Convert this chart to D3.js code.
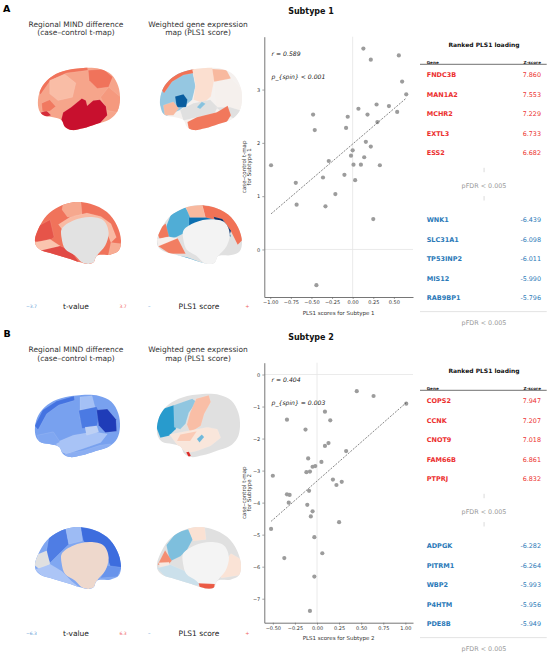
<!DOCTYPE html>
<html>
<head>
<meta charset="utf-8">
<script src="https://cdn.jsdelivr.net/npm/d3@7"></script>
<style>
  body { margin: 0; background: #fff; }
  svg { display: block; font-family: "DejaVu Sans", sans-serif; }
</style>
</head>
<body>
<div id="chart"></div>
<script>
const W = 550, H = 654;

// ---- scatter data ----
const sub1PLS = [-0.99, -0.69, -0.68, -0.48, -0.46, -0.44, -0.36, -0.33, -0.29, -0.21, -0.10, -0.08, -0.06, -0.02,
  0.00, 0.01, 0.03, 0.07, 0.10, 0.13, 0.14, 0.16, 0.18, 0.22, 0.22, 0.25, 0.29, 0.30, 0.33, 0.44, 0.54, 0.56, 0.60, 0.65];
const sub1T = [1.58, 1.25, 0.84, 2.53, 2.24, -0.67, 1.35, 0.81, 1.66, 1.04, 1.40, 2.28, 2.49, 1.76,
  1.86, 1.59, 1.30, 2.64, 1.59, 3.77, 1.73, 2.02, 2.53, 3.56, 1.93, 0.57, 2.72, 2.39, 1.58, 2.69, 2.58, 3.64, 3.15, 2.91];
const sub2PLS = [-0.52, -0.50, -0.37, -0.34, -0.34, -0.31, -0.32, -0.13, -0.11, -0.12, -0.10, -0.08, -0.09, -0.08,
  -0.07, -0.05, -0.05, -0.02, -0.03, -0.03, 0.05, 0.06, 0.09, 0.09, 0.13, 0.15, 0.18, 0.22, 0.25, 0.28, 0.33, 0.45, 0.64, 1.01];
const sub2T = [-4.82, -3.16, -5.73, -1.41, -3.74, -3.76, -4.00, -1.72, -4.07, -3.05, -2.62, -3.03, -3.63, -7.38,
  -4.43, -4.27, -2.88, -2.86, -5.08, -6.31, -2.73, -5.58, -1.16, -2.23, -2.14, -1.43, -3.28, -3.45, -4.61, -3.35, -2.39, -0.52, -0.67, -0.91];

const sub1Stats = ['r = 0.589', 'p_{spin} < 0.001'];
const sub2Stats = ['r = 0.404', 'p_{spin} = 0.003'];

const sub1XTicks = [-1, -0.75, -0.5, -0.25, 0, 0.25, 0.5];
const sub1YTicks = [0, 1, 2, 3];
const sub2XTicks = [-0.5, -0.25, 0, 0.25, 0.5, 0.75, 1];
const sub2YTicks = [-7, -6, -5, -4, -3, -2, -1, 0];

// ---- ranked PLS1 loading tables ----
const sub1PosGenes = ['FNDC3B', 'MAN1A2', 'MCHR2', 'EXTL3', 'ESS2'];
const sub1PosZ = [7.860, 7.553, 7.229, 6.733, 6.682];
const sub1NegGenes = ['WNK1', 'SLC31A1', 'TP53INP2', 'MIS12', 'RAB9BP1'];
const sub1NegZ = [-6.439, -6.098, -6.011, -5.990, -5.796];
const sub2PosGenes = ['COPS2', 'CCNK', 'CNOT9', 'FAM66B', 'PTPRJ'];
const sub2PosZ = [7.947, 7.207, 7.018, 6.861, 6.832];
const sub2NegGenes = ['ADPGK', 'PITRM1', 'WBP2', 'P4HTM', 'PDE8B'];
const sub2NegZ = [-6.282, -6.264, -5.993, -5.956, -5.949];

// ---- regional values for the brain maps (t for MIND, scaled score for PLS1) ----
const tMaxA = 3.7, tMaxB = 6.3;
const mindA_lat = [1.65, 2.6, 1.15, 2.6, 1.9, 3.7, 3.4, 2.5];
const mindA_med = [2.6, 1.6, 1.2, 3.0, 1.0, 3.1, 1.5];
const plsA_lat = [0.03, -0.27, 0.72, -0.8, 0.22, 0.45, 0.04, null, -0.3, null, 0.7, 0.45, -0.55];
const plsA_med = [null, -0.42, 0.45, 0.72, -0.72, -1, 0.7, 0.05, 0.68, -0.45];
const mindB_lat = [-3.2, -4.6, -2.0, -4.4, -6.3, -1.9, -2.7, -1.3, -3.0];
const mindB_med = [-3.0, -4.8, -4.3, -2.2, null, -1.8, -3.6];
const plsB_lat = [null, -0.52, -0.28, 0.42, 0.15, 0.35, -0.35, 0.95];
const plsB_med = [null, -0.32, 0.2, 0.62, 0.12, -0.12, 0.18, 0.8];

// ---- colours ----
const T_STOPS = ['#1f3cb8', '#3f6fe0', '#7aa3f0', '#b4cbf7', '#e8e8e8', '#fac7b2', '#f59c80', '#ef6a52', '#c8102e'];
const PLS_STOPS = ['#08306b', '#0868ac', '#2b9fd0', '#9ecbe2', '#f4f4f4', '#fcdccb', '#f7b094', '#f06a4e', '#d7191c'];
const STOP_POS = [-1, -0.75, -0.5, -0.25, 0, 0.25, 0.5, 0.75, 1];
const NULL_GREY = '#e0e0e0';
const RED = '#ec2f2f';
const BLUE = '#2a79b8';

const tColor = vmax => d3.scaleLinear().domain(STOP_POS.map(d => d * vmax)).range(T_STOPS).clamp(true);
const plsColor = d3.scaleLinear().domain(STOP_POS).range(PLS_STOPS).clamp(true);

// ---- brain geometry (outline normalised to its box, regions in source-pixel space) ----
const LAT_OUTLINE = [[0.012, 0.676], [0, 0.514], [0.041, 0.324], [0.143, 0.162], [0.306, 0.054], [0.551, 0], [0.755, 0.016],
  [0.898, 0.108], [0.98, 0.297], [1, 0.514], [0.967, 0.703], [0.878, 0.827], [0.714, 0.903], [0.551, 0.973], [0.408, 1],
  [0.327, 0.946], [0.286, 0.838], [0.184, 0.795], [0.061, 0.757]];
const MED_OUTLINE = [[0.012, 0.703], [0, 0.595], [0.039, 0.432], [0.136, 0.216], [0.272, 0.081], [0.447, 0.005], [0.642, 0.027],
  [0.837, 0.162], [0.953, 0.378], [1, 0.622], [0.973, 0.784], [0.875, 0.849], [0.72, 0.865], [0.681, 0.973], [0.623, 1],
  [0.525, 0.973], [0.37, 0.903], [0.214, 0.838], [0.078, 0.784]];
const MED_WALL = [[0.311, 0.432], [0.447, 0.297], [0.642, 0.243], [0.797, 0.297], [0.856, 0.486], [0.817, 0.703], [0.72, 0.865],
  [0.681, 0.973], [0.623, 1], [0.545, 0.973], [0.467, 0.865], [0.35, 0.757], [0.311, 0.595]];

const SHAPES = {
  A_lat: { src: [115, 205, 360, 390], regions: ['all',
    [[112, 262], [140, 225], [190, 205], [262, 198], [264, 212], [200, 220], [152, 242], [122, 285]],
    [[150, 242], [195, 224], [228, 250], [218, 292], [175, 302], [150, 282]],
    [[265, 212], [310, 208], [338, 232], [326, 262], [292, 266], [268, 242]],
    [[326, 262], [362, 292], [356, 338], [322, 332], [302, 292]],
    [[190, 338], [214, 322], [234, 306], [246, 296], [258, 302], [262, 318], [280, 302], [300, 300], [318, 320], [322, 346],
      [300, 370], [250, 388], [214, 392], [194, 382], [184, 362]],
    [[118, 340], [140, 332], [154, 346], [130, 354]],
    [[126, 310], [150, 300], [168, 320], [150, 334], [128, 334]]] },
  A_med: { src: [105, 95, 362, 280], regions: ['all',
    [[190, 92], [242, 92], [246, 135], [202, 140], [186, 118]],
    [[175, 162], [210, 140], [260, 128], [302, 138], [332, 160], [348, 200], [332, 216], [320, 186], [280, 152], [220, 152], [186, 176]],
    [[100, 212], [118, 165], [150, 148], [162, 200], [140, 216]],
    [[104, 216], [150, 206], [180, 226], [150, 240], [112, 242]],
    [[112, 242], [180, 226], [212, 240], [242, 282], [200, 264], [150, 250]],
    [[332, 216], [366, 220], [356, 248], [324, 254]]] },
  P_A_lat: { src: [90, 205, 335, 390], regions: ['all',
    [[86, 250], [110, 225], [150, 214], [186, 208], [196, 260], [186, 300], [150, 330], [100, 352], [86, 300]],
    [[92, 266], [118, 232], [160, 212], [190, 204], [192, 220], [160, 226], [126, 246], [102, 280]],
    [[135, 290], [160, 283], [172, 300], [168, 322], [140, 322]],
    [[186, 206], [246, 203], [252, 240], [242, 290], [220, 310], [190, 300], [196, 255]],
    [[246, 208], [288, 210], [302, 236], [272, 256], [252, 246]],
    [[252, 246], [302, 236], [338, 270], [338, 330], [300, 336], [256, 320]],
    [[150, 330], [190, 310], [240, 300], [262, 322], [250, 346], [200, 352], [160, 362]],
    [[200, 322], [215, 306], [226, 312], [210, 327]],
    [[256, 322], [300, 322], [332, 332], [310, 356], [290, 346]],
    [[172, 366], [200, 352], [260, 337], [292, 318], [302, 346], [286, 372], [240, 388], [200, 394], [176, 388]],
    [[100, 316], [130, 306], [146, 326], [130, 346], [104, 346]],
    [[288, 376], [322, 352], [340, 334], [336, 358], [300, 380]]] },
  P_A_med: { src: [80, 630, 335, 790], regions: ['all',
    [[106, 692], [122, 655], [165, 636], [182, 660], [176, 700], [140, 716], [112, 726]],
    [[165, 634], [216, 630], [226, 665], [180, 665]],
    [[216, 630], [272, 638], [318, 668], [340, 722], [322, 738], [302, 702], [266, 672], [226, 665]],
    [[176, 664], [226, 664], [266, 672], [292, 690], [302, 716], [270, 702], [230, 692], [176, 702]],
    [[250, 662], [276, 668], [302, 700], [296, 716], [260, 692]],
    [[78, 700], [106, 680], [116, 716], [88, 722]],
    [[80, 722], [116, 716], [142, 720], [120, 738], [84, 742]],
    [[84, 742], [142, 720], [166, 762], [118, 762]],
    [[108, 762], [170, 772], [232, 792], [242, 800], [180, 790], [100, 770]]] },
  B_lat: { src: [105, 180, 360, 365], regions: ['all',
    [[104, 272], [128, 225], [170, 198], [222, 183], [224, 196], [176, 210], [140, 236], [114, 284]],
    [[240, 186], [276, 182], [286, 220], [266, 260], [240, 250]],
    [[236, 226], [290, 215], [300, 236], [290, 276], [246, 280]],
    [[290, 225], [322, 222], [348, 252], [350, 288], [316, 292], [296, 270]],
    [[168, 322], [220, 300], [280, 290], [322, 296], [302, 322], [250, 340], [200, 356], [174, 346]],
    [[194, 356], [250, 346], [300, 330], [332, 326], [312, 352], [260, 364], [210, 368]],
    [[255, 276], [290, 272], [296, 290], [260, 300]],
    [[112, 300], [160, 290], [180, 320], [150, 336], [118, 322]]] },
  B_med: { src: [105, 98, 362, 285], regions: ['all',
    [[240, 98], [292, 106], [332, 134], [358, 180], [364, 222], [336, 236], [322, 192], [290, 162], [250, 142], [245, 120]],
    [[148, 122], [196, 98], [206, 150], [180, 176], [150, 206], [138, 180]],
    [[196, 98], [242, 96], [246, 140], [206, 150]],
    [[102, 212], [114, 180], [140, 170], [150, 210], [120, 226]],
    [[106, 226], [150, 210], [186, 232], [214, 262], [242, 284], [190, 272], [138, 256]],
    [[322, 214], [364, 220], [352, 248], [300, 252]]] },
  P_B_lat: { src: [80, 190, 330, 380], regions: ['all',
    [[80, 256], [100, 234], [130, 224], [150, 234], [150, 270], [136, 296], [116, 316], [90, 322], [78, 290]],
    [[130, 224], [186, 204], [200, 214], [176, 246], [166, 280], [150, 296], [132, 290]],
    [[198, 204], [236, 194], [242, 214], [222, 250], [212, 286], [180, 306], [170, 282], [180, 246]],
    [[118, 312], [180, 300], [232, 290], [262, 296], [272, 322], [242, 346], [200, 362], [170, 368], [140, 342]],
    [[150, 312], [200, 302], [180, 332], [140, 332]],
    [[200, 326], [215, 312], [222, 320], [208, 336]],
    [[168, 366], [176, 364], [182, 376], [175, 380]]] },
  P_B_med: { src: [470, 98, 720, 285], regions: ['all',
    [[498, 152], [528, 114], [566, 104], [576, 136], [560, 166], [540, 186], [508, 202]],
    [[560, 98], [612, 98], [616, 136], [578, 140]],
    [[472, 212], [494, 168], [514, 200], [500, 216]],
    [[476, 206], [506, 204], [506, 216], [478, 222]],
    [[470, 222], [510, 212], [560, 234], [602, 272], [556, 278], [498, 252]],
    [[690, 178], [724, 198], [724, 242], [662, 252], [650, 232]],
    [[594, 268], [642, 270], [640, 284], [598, 284]]] }
};

const svg = d3.select('#chart').append('svg')
  .attr('width', W)
  .attr('height', H);

let clipCount = 0;

function drawBrain(box, view, shape, values, color, wall, wallAt) {
  const g = svg.append('g');
  const src = shape.src;
  const u = d3.scaleLinear().domain([0, 1]).range([box.x, box.x + box.w]);
  const v = d3.scaleLinear().domain([0, 1]).range([box.y, box.y + box.h]);
  const sx = d3.scaleLinear().domain([src[0], src[2]]).range([box.x, box.x + box.w]);
  const sy = d3.scaleLinear().domain([src[1], src[3]]).range([box.y, box.y + box.h]);
  const smooth = d3.line().x(d => u(d[0])).y(d => v(d[1])).curve(d3.curveCatmullRomClosed);
  const poly = d3.line().x(d => sx(d[0])).y(d => sy(d[1])).curve(d3.curveLinearClosed);

  const id = 'brain-clip-' + (clipCount++);
  g.append('clipPath').attr('id', id)
    .append('path').attr('d', smooth(view === 'lat' ? LAT_OUTLINE : MED_OUTLINE));
  const inner = g.append('g').attr('clip-path', `url(#${id})`);

  const addWall = () => inner.append('path').attr('d', smooth(MED_WALL)).attr('fill', wall);

  shape.regions.forEach((r, i) => {
    if (wall && i === wallAt) addWall();
    const pts = r === 'all'
      ? [[src[0] - 30, src[1] - 30], [src[2] + 30, src[1] - 30], [src[2] + 30, src[3] + 30], [src[0] - 30, src[3] + 30]]
      : r;
    inner.append('path')
      .attr('d', poly(pts))
      .attr('fill', values[i] == null ? NULL_GREY : color(values[i]))
      .attr('stroke', '#fff')
      .attr('stroke-opacity', 0.35)
      .attr('stroke-width', 0.3);
  });
  if (wall && wallAt >= shape.regions.length) addWall();
}

function brainColumnLabels(top, cbarY, vmax) {
  const fmt = d3.format('.1f');
  const t1 = svg.append('text').attr('x', 76).attr('y', top).attr('text-anchor', 'middle')
    .attr('font-size', 7.5).attr('fill', '#333');
  t1.append('tspan').attr('x', 76).text('Regional MIND difference');
  t1.append('tspan').attr('x', 76).attr('dy', 8.5).text('(case\u2013control t-map)');
  const t2 = svg.append('text').attr('x', 198).attr('y', top).attr('text-anchor', 'middle')
    .attr('font-size', 7.5).attr('fill', '#333');
  t2.append('tspan').attr('x', 198).text('Weighted gene expression');
  t2.append('tspan').attr('x', 198).attr('dy', 8.5).text('map (PLS1 score)');

  const cb = [
    { x: 31.5, t: fmt(-vmax), c: '#5b9bd5', s: 4.5 },
    { x: 76, t: 't-value', c: '#222', s: 7.5 },
    { x: 123, t: fmt(vmax).replace('\u2212', ''), c: '#f06060', s: 4.5 },
    { x: 149.3, t: '\u2013', c: '#5b9bd5', s: 5 },
    { x: 199, t: 'PLS1 score', c: '#222', s: 7.5 },
    { x: 247.3, t: '+', c: '#f06060', s: 5 }
  ];
  svg.append('g').selectAll('text').data(cb).join('text')
    .attr('x', d => d.x).attr('y', cbarY)
    .attr('dy', '0.35em')
    .attr('text-anchor', 'middle')
    .attr('font-size', d => d.s)
    .attr('fill', d => d.c)
    .text(d => d.t);
}

function padded(ext) {
  const m = (ext[1] - ext[0]) * 0.05;
  return [ext[0] - m, ext[1] + m];
}

function scatter({ xs, ys, top, bottom, xTicks, yTicks, stats, subtype }) {
  const left = 264.3, right = 413;
  const x = d3.scaleLinear().domain(padded(d3.extent(xs))).range([left, right]);
  const y = d3.scaleLinear().domain(padded(d3.extent(ys.concat([0])))).range([bottom, top]);
  const g = svg.append('g');

  // zero reference lines
  g.append('line').attr('x1', x(0)).attr('x2', x(0)).attr('y1', top).attr('y2', bottom)
    .attr('stroke', '#e4e4e4').attr('stroke-width', 0.8);
  g.append('line').attr('x1', left).attr('x2', right).attr('y1', y(0)).attr('y2', y(0))
    .attr('stroke', '#e4e4e4').attr('stroke-width', 0.8);

  // least squares fit
  const mx = d3.mean(xs), my = d3.mean(ys);
  const slope = d3.sum(xs, (d, i) => (d - mx) * (ys[i] - my)) / d3.sum(xs, d => (d - mx) * (d - mx));
  const fitX = d3.extent(xs);

  g.selectAll('circle').data(xs).join('circle')
    .attr('cx', d => x(d))
    .attr('cy', (d, i) => y(ys[i]))
    .attr('r', 2.1)
    .attr('fill', '#9c9c9c');

  g.append('line')
    .attr('x1', x(fitX[0])).attr('y1', y(my + slope * (fitX[0] - mx)))
    .attr('x2', x(fitX[1])).attr('y2', y(my + slope * (fitX[1] - mx)))
    .attr('stroke', '#333').attr('stroke-width', 0.6).attr('stroke-dasharray', '2,1.3');

  const xAxis = g.append('g')
    .attr('transform', `translate(0,${bottom})`)
    .call(d3.axisBottom(x).tickValues(xTicks).tickFormat(d3.format('.2f')).tickSize(2).tickSizeOuter(0).tickPadding(1.5));
  const yAxis = g.append('g')
    .attr('transform', `translate(${left},0)`)
    .call(d3.axisLeft(y).tickValues(yTicks).tickFormat(d3.format('d')).tickSize(2).tickSizeOuter(0).tickPadding(2));
  [xAxis, yAxis].forEach(a => {
    a.select('.domain').attr('stroke', '#666').attr('stroke-width', 0.9);
    a.selectAll('.tick line').attr('stroke', '#666').attr('stroke-width', 0.6);
    a.selectAll('.tick text').attr('font-size', 5).attr('fill', '#333')
      .attr('font-family', '"DejaVu Sans", sans-serif');
  });

  g.append('text')
    .attr('x', (left + right) / 2).attr('y', bottom + 17.5)
    .attr('text-anchor', 'middle').attr('font-size', 5.5).attr('fill', '#333')
    .text('PLS1 scores for Subtype ' + subtype);

  const yl = g.append('text')
    .attr('transform', `translate(245.5,${(top + bottom) / 2}) rotate(-90)`)
    .attr('text-anchor', 'middle').attr('font-size', 5.5).attr('fill', '#333');
  yl.append('tspan').attr('x', 0).attr('y', 0).text('case\u2013control t-map');
  yl.append('tspan').attr('x', 0).attr('y', 5.8).text('for Subtype ' + subtype);

  g.selectAll('.stat').data(stats).join('text')
    .attr('class', 'stat')
    .attr('x', left + 7.3)
    .attr('y', (d, i) => top + 18.8 + i * 23.7)
    .attr('font-size', 6.1).attr('font-style', 'italic').attr('fill', '#222')
    .text(d => d);

  svg.append('text')
    .attr('x', 311).attr('y', top - 23)
    .attr('text-anchor', 'middle').attr('font-size', 8).attr('font-weight', 'bold').attr('fill', '#111')
    .text('Subtype ' + subtype);
}

function geneTable({ T, posGenes, posZ, negGenes, negZ }) {
  const g = svg.append('g');
  const xl = 426.7, xr = 541;
  const posY = d3.scaleLinear().domain([0, 4]).range([T + 30, T + 108.2]);
  const negY = d3.scaleLinear().domain([0, 4]).range([T + 175, T + 252.7]);

  g.append('text').attr('x', 484).attr('y', T).attr('dy', '0.35em')
    .attr('text-anchor', 'middle').attr('font-size', 6).attr('font-weight', 'bold').attr('fill', '#111')
    .text('Ranked PLS1 loading');

  g.append('line').attr('x1', 420).attr('x2', 546.7).attr('y1', T + 19.3).attr('y2', T + 19.3)
    .attr('stroke', '#333').attr('stroke-width', 0.7);
  g.append('text').attr('x', xl).attr('y', T + 18.7).attr('font-size', 4.2).attr('font-weight', 'bold')
    .attr('fill', '#222').text('Gene');
  g.append('text').attr('x', xr).attr('y', T + 18.7).attr('font-size', 4.2).attr('font-weight', 'bold')
    .attr('text-anchor', 'end').attr('fill', '#222').text('Z-score');

  const rows = (genes, zs, yScale, color) => {
    g.append('g').selectAll('text').data(genes).join('text')
      .attr('x', xl).attr('y', (d, i) => yScale(i)).attr('dy', '0.35em')
      .attr('font-size', 6.5).attr('font-weight', 'bold').attr('fill', color)
      .text(d => d);
    g.append('g').selectAll('text').data(zs).join('text')
      .attr('x', xr).attr('y', (d, i) => yScale(i)).attr('dy', '0.35em')
      .attr('text-anchor', 'end').attr('font-size', 6.4).attr('fill', color)
      .text(d => d.toFixed(3));
  };
  rows(posGenes, posZ, posY, RED);
  rows(negGenes, negZ, negY, BLUE);

  // faint vertical ellipsis marks around the first pFDR note
  [T + 125, T + 153.3].forEach(yy => {
    g.append('rect').attr('x', 483.6).attr('y', yy - 2.2).attr('width', 0.9).attr('height', 4.4)
      .attr('fill', '#d6d6d6');
  });
  g.append('text').attr('x', 484).attr('y', T + 140.7).attr('dy', '0.35em').attr('text-anchor', 'middle')
    .attr('font-size', 6.4).attr('fill', '#999').text('pFDR < 0.005');

  g.append('line').attr('x1', 420).attr('x2', 546.7).attr('y1', T + 266.6).attr('y2', T + 266.6)
    .attr('stroke', '#e0e0e0').attr('stroke-width', 0.9);
  g.append('text').attr('x', 484).attr('y', T + 277.6).attr('dy', '0.35em').attr('text-anchor', 'middle')
    .attr('font-size', 6.4).attr('fill', '#999').text('pFDR < 0.005');
}

// panel letters
svg.append('text').attr('x', 3).attr('y', 11.5).attr('font-size', 9.5).attr('font-weight', 'bold').text('A');
svg.append('text').attr('x', 3.5).attr('y', 337).attr('font-size', 9.5).attr('font-weight', 'bold').text('B');

// panel A brains
brainColumnLabels(26.5, 306.7, tMaxA);
drawBrain({ x: 38, y: 68, w: 82, h: 62 }, 'lat', SHAPES.A_lat, mindA_lat, tColor(tMaxA));
drawBrain({ x: 160, y: 68, w: 82, h: 62 }, 'lat', SHAPES.P_A_lat, plsA_lat, plsColor);
drawBrain({ x: 35, y: 202, w: 86, h: 62 }, 'med', SHAPES.A_med, mindA_med, tColor(tMaxA), '#e2e2e2', 99);
drawBrain({ x: 157, y: 205, w: 85, h: 59 }, 'med', SHAPES.P_A_med, plsA_med, plsColor, '#f3f3f3', 99);

// panel B brains
brainColumnLabels(352, 633.3, tMaxB);
drawBrain({ x: 35, y: 395, w: 85, h: 62 }, 'lat', SHAPES.B_lat, mindB_lat, tColor(tMaxB));
drawBrain({ x: 157, y: 394, w: 83, h: 63 }, 'lat', SHAPES.P_B_lat, plsB_lat, plsColor);
drawBrain({ x: 35, y: 527, w: 86, h: 62 }, 'med', SHAPES.B_med, mindB_med, tColor(tMaxB), '#eed8cc', 99);
drawBrain({ x: 157, y: 527, w: 84, h: 62 }, 'med', SHAPES.P_B_med, plsB_med, plsColor, '#f4f4f4', 7);

// scatter plots
scatter({ xs: sub1PLS, ys: sub1T, top: 36.7, bottom: 297, xTicks: sub1XTicks, yTicks: sub1YTicks, stats: sub1Stats, subtype: 1 });
scatter({ xs: sub2PLS, ys: sub2T, top: 362.7, bottom: 622.7, xTicks: sub2XTicks, yTicks: sub2YTicks, stats: sub2Stats, subtype: 2 });

// gene tables
geneTable({ T: 45, posGenes: sub1PosGenes, posZ: sub1PosZ, negGenes: sub1NegGenes, negZ: sub1NegZ });
geneTable({ T: 371, posGenes: sub2PosGenes, posZ: sub2PosZ, negGenes: sub2NegGenes, negZ: sub2NegZ });
</script>
</body>
</html>
